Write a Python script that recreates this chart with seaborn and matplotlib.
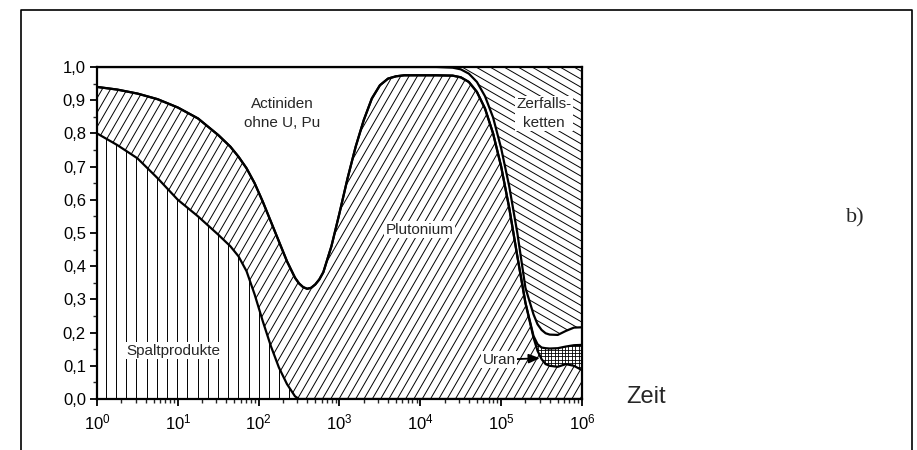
import numpy as np
import pandas as pd
import matplotlib
matplotlib.use("Agg")
import matplotlib.pyplot as plt
from matplotlib.collections import LineCollection
from matplotlib.lines import Line2D
from matplotlib.ticker import FuncFormatter, LogLocator, MultipleLocator, NullFormatter
import seaborn as sns

# ---------------- data ----------------
log_zeit = [0.0, 0.25, 0.5, 0.75, 1.0, 1.25, 1.5, 1.65, 1.75, 1.85, 1.95, 2.05, 2.15,
            2.25, 2.35, 2.45, 2.5, 2.55, 2.6, 2.65, 2.7, 2.75, 2.8, 2.9, 3.0, 3.1,
            3.2, 3.3, 3.4, 3.5, 3.6, 3.7, 3.8, 4.0, 4.2, 4.4, 4.5, 4.6, 4.7, 4.8,
            4.9, 5.0, 5.1, 5.2, 5.3, 5.4, 5.45, 5.5, 5.55, 5.6, 5.7, 5.8, 5.9, 6.0]

# cumulative upper boundaries of each layer
grenze_spaltprodukte = [0.80, 0.765, 0.725, 0.665, 0.60, 0.55, 0.495, 0.46, 0.43, 0.385,
                        0.315, 0.235, 0.16, 0.095, 0.045, 0.008, 0.0, 0.0, 0.0, 0.0,
                        0.0, 0.0, 0.0, 0.0, 0.0, 0.0, 0.0, 0.0, 0.0, 0.0, 0.0, 0.0, 0.0,
                        0.0, 0.0, 0.0, 0.0, 0.0, 0.0, 0.0, 0.0, 0.0, 0.0, 0.0, 0.0, 0.0,
                        0.0, 0.0, 0.0, 0.0, 0.0, 0.0, 0.0, 0.0]
grenze_plutonium = [0.94, 0.932, 0.92, 0.903, 0.878, 0.845, 0.795, 0.76, 0.73, 0.695,
                    0.65, 0.595, 0.535, 0.475, 0.415, 0.365, 0.348, 0.337, 0.332, 0.335,
                    0.345, 0.36, 0.382, 0.46, 0.56, 0.665, 0.76, 0.84, 0.905, 0.945,
                    0.965, 0.972, 0.975, 0.975, 0.975, 0.974, 0.969, 0.955, 0.925, 0.875,
                    0.80, 0.70, 0.575, 0.43, 0.29, 0.185, 0.145, 0.12, 0.105, 0.10,
                    0.097, 0.105, 0.10, 0.087]
grenze_uran = [0.94, 0.932, 0.92, 0.903, 0.878, 0.845, 0.795, 0.76, 0.73, 0.695,
               0.65, 0.595, 0.535, 0.475, 0.415, 0.365, 0.348, 0.337, 0.332, 0.335,
               0.345, 0.36, 0.382, 0.46, 0.56, 0.665, 0.76, 0.84, 0.905, 0.945,
               0.965, 0.972, 0.975, 0.975, 0.975, 0.974, 0.969, 0.955, 0.925, 0.875,
               0.80, 0.70, 0.575, 0.43, 0.29, 0.19, 0.165, 0.155, 0.153, 0.152,
               0.153, 0.158, 0.162, 0.163]
grenze_actiniden = [1.0, 1.0, 1.0, 1.0, 1.0, 1.0, 1.0, 1.0, 1.0, 1.0, 1.0, 1.0, 1.0,
                    1.0, 1.0, 1.0, 1.0, 1.0, 1.0, 1.0, 1.0, 1.0, 1.0, 1.0, 1.0, 1.0,
                    1.0, 1.0, 1.0, 1.0, 1.0, 1.0, 1.0, 1.0, 1.0, 0.998, 0.993, 0.98,
                    0.955, 0.912, 0.848, 0.755, 0.64, 0.50, 0.335, 0.255, 0.225, 0.208,
                    0.198, 0.194, 0.193, 0.205, 0.215, 0.216]
grenze_zerfallsketten = [1.0] * len(log_zeit)

y_ticks = [0.0, 0.1, 0.2, 0.3, 0.4, 0.5, 0.6, 0.7, 0.8, 0.9, 1.0]

zeit = 10.0 ** np.array(log_zeit)
df = pd.DataFrame({
    "Zeit": zeit,
    "Spaltprodukte": grenze_spaltprodukte,
    "Plutonium": grenze_plutonium,
    "Uran": grenze_uran,
    "Actiniden": grenze_actiniden,
    "Zerfallsketten": grenze_zerfallsketten,
})

# ---------------- style ----------------
sns.set_theme(style="ticks")
plt.rcParams["font.family"] = ["Liberation Sans Narrow", "Liberation Sans", "DejaVu Sans"]
plt.rcParams["mathtext.fontset"] = "custom"
plt.rcParams["mathtext.rm"] = "Liberation Sans"
plt.rcParams["mathtext.it"] = "Liberation Sans"
plt.rcParams["axes.linewidth"] = 1.4

W_FIG, H_FIG = 917, 450
fig = plt.figure(figsize=(W_FIG / 100, H_FIG / 100), dpi=100)
ax_l, ax_b, ax_w, ax_h = 97, 399, 485, 332
ax = fig.add_axes([ax_l / W_FIG, 1 - ax_b / H_FIG, ax_w / W_FIG, ax_h / H_FIG])
ax.set_xscale("log")
ax.set_xlim(1, 1e6)
ax.set_ylim(0, 1)


def hatch(coll, angle, spacing, lw=0.7):
    th = np.radians(angle)
    d = np.array([np.cos(th), np.sin(th)])
    n = np.array([-np.sin(th), np.cos(th)])
    L = ax_w + ax_h
    c0 = np.array([ax_w / 2, ax_h / 2])
    segs = []
    for off in np.arange(-L, L, spacing):
        p0 = c0 + off * n - L * d
        p1 = c0 + off * n + L * d
        segs.append([(p0[0] / ax_w, p0[1] / ax_h), (p1[0] / ax_w, p1[1] / ax_h)])
    lc = LineCollection(segs, colors="black", linewidths=lw, transform=ax.transAxes, zorder=2)
    lc.set_clip_path(coll.get_paths()[0], coll.get_transform())
    ax.add_collection(lc, autolim=False)


zero = np.zeros(len(zeit))
f_sp = ax.fill_between(df["Zeit"], zero, df["Spaltprodukte"], facecolor="white", lw=0)
f_pu = ax.fill_between(df["Zeit"], df["Spaltprodukte"], df["Plutonium"], facecolor="white", lw=0)
f_u = ax.fill_between(df["Zeit"], df["Plutonium"], df["Uran"], facecolor="white", lw=0)
f_ze = ax.fill_between(df["Zeit"], df["Actiniden"], df["Zerfallsketten"], facecolor="white", lw=0)

hatch(f_sp, 90, 10.2)
hatch(f_pu, 60, 7.2)
hatch(f_u, 0, 3.4, lw=0.6)
hatch(f_u, 90, 3.4, lw=0.6)
hatch(f_ze, -30, 7.0)

for col in ["Spaltprodukte", "Plutonium", "Uran", "Actiniden"]:
    sns.lineplot(data=df, x="Zeit", y=col, color="black", lw=1.6, ax=ax,
                 estimator=None, sort=False, zorder=3)

ax.set_xlabel("")
ax.set_ylabel("")

# ticks
ax.yaxis.set_major_locator(MultipleLocator(0.1))
ax.yaxis.set_minor_locator(MultipleLocator(0.05))
ax.set_yticks(y_ticks)
ax.yaxis.set_major_formatter(FuncFormatter(lambda v, p: f"{v:.1f}".replace(".", ",")))
ax.xaxis.set_major_locator(LogLocator(base=10, numticks=10))
ax.xaxis.set_minor_locator(LogLocator(base=10, subs=np.arange(2, 10), numticks=20))
ax.xaxis.set_minor_formatter(NullFormatter())
ax.tick_params(axis="both", which="major", direction="out", length=5, width=1.3,
               labelsize=12, colors="black", pad=3)
ax.tick_params(axis="both", which="minor", direction="out", length=3, width=1.0)
ax.tick_params(axis="x", which="major", pad=5)
for s in ax.spines.values():
    s.set_visible(True)
    s.set_color("black")
    s.set_linewidth(1.6)
    s.set_zorder(4)

# labels inside
box = dict(facecolor="white", edgecolor="none", pad=1.0)
ax.text(10 ** 2.29, 0.86, "Actiniden\nohne U, Pu", ha="center", va="center",
        fontsize=11, linespacing=1.45, zorder=5)
ax.text(10 ** 3.99, 0.51, "Plutonium", ha="center", va="center", fontsize=11,
        bbox=box, zorder=5)
ax.text(10 ** 0.94, 0.145, "Spaltprodukte", ha="center", va="center", fontsize=11,
        bbox=box, zorder=5)
ax.text(10 ** 5.53, 0.86, "Zerfalls-\nketten", ha="center", va="center", fontsize=11,
        linespacing=1.45, bbox=box, zorder=5)
ax.annotate("Uran", xy=(10 ** 5.48, 0.123), xytext=(10 ** 4.975, 0.118),
            ha="center", va="center", fontsize=11, bbox=box, zorder=5,
            arrowprops=dict(arrowstyle="-|>,head_length=0.6,head_width=0.25",
                            color="black", lw=1.3, shrinkA=0, shrinkB=0))

fig.text(646 / W_FIG, 1 - 397 / H_FIG, "Zeit", ha="center", va="center",
         fontsize=17, family=["Liberation Sans", "DejaVu Sans"])
fig.text(855 / W_FIG, 1 - 218 / H_FIG, "b)", ha="center", va="center",
         fontsize=16, family=["Liberation Serif", "DejaVu Serif"])

# outer frame (left, top, right)
fx0, fx1, fy1 = 20.5 / W_FIG, 911.5 / W_FIG, 1 - 10.3 / H_FIG
fig.add_artist(Line2D([fx0, fx0, fx1, fx1], [0, fy1, fy1, 0], color="black", lw=1.2,
                      transform=fig.transFigure))

fig.savefig("out.png", dpi=100)
